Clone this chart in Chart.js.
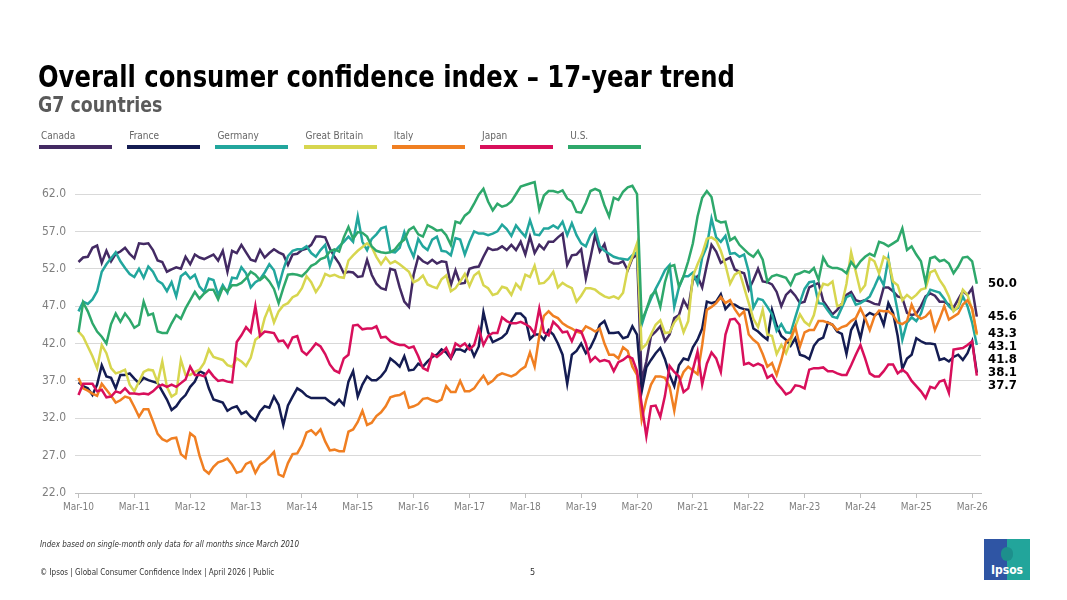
<!DOCTYPE html>
<html>
<head>
<meta charset="utf-8">
<script src="https://cdn.jsdelivr.net/npm/chart.js@4.4.1/dist/chart.umd.min.js"></script>
<style>
  body { margin: 0; background: #fff; }
  #page { position: relative; width: 1067px; height: 600px; overflow: hidden;
          font-family: "Liberation Sans Narrow", "DejaVu Sans Condensed", "Roboto", sans-serif; }
  #myChart { position: absolute; left: 0; top: 0; }
  .title { position: absolute; left: 38px; top: 58px; font-size: 31px; font-weight: bold; color: #000;
           white-space: nowrap; transform: scaleX(0.87); transform-origin: 0 0; }
  .subtitle { position: absolute; left: 38px; top: 93px; font-size: 21px; font-weight: bold; color: #5a5a5a;
              white-space: nowrap; transform: scaleX(0.92); transform-origin: 0 0; }
  .leg { position: absolute; top: 130px; }
  .leg span { display: block; font-size: 10px; color: #666; margin-left: 2px; height: 13px; }
  .leg i { display: block; width: 73px; height: 4px; margin-top: 2px; }
  .note { position: absolute; left: 40px; top: 540px; font-size: 8px; font-style: italic; color: #333; }
  .foot { position: absolute; left: 40px; top: 568px; font-size: 8px; color: #333; }
  .pnum { position: absolute; left: 530px; top: 567px; font-size: 9px; color: #333; }
  .logo { position: absolute; left: 984px; top: 539px; width: 46px; height: 41px;
          background: linear-gradient(90deg, #2f55a4 0 50%, #22a59b 50% 100%); }
  .logo b { position: absolute; left: 0; right: 0; bottom: 3px; text-align: center; color: #fff; font-size: 12px; }
  .logo u { position: absolute; left: 17px; top: 8px; width: 12px; height: 14px; border-radius: 6px; background: #1d8f8c; }
</style>
</head>
<body>
<div id="page">
  <canvas id="myChart" width="1067" height="600"></canvas>
  <div class="title">Overall consumer confidence index – 17-year trend</div>
  <div class="subtitle">G7 countries</div>
  <div id="legend"></div>
  <div class="note">Index based on single-month only data for all months since March 2010</div>
  <div class="foot">© Ipsos | Global Consumer Confidence Index | April 2026 | Public</div>
  <div class="pnum">5</div>
  <div class="logo"><u></u><b>Ipsos</b></div>
</div>
<script>
// months run Mar-10 .. Apr-26, one value per month
const countries = ['Canada', 'France', 'Germany', 'Great Britain', 'Italy', 'Japan', 'U.S.'];
const colors = ['#432a63', '#141c52', '#22a69d', '#d7d64f', '#f07f22', '#d80f5b', '#2ea86b'];
const tickMonths = [0, 12, 24, 36, 48, 60, 72, 84, 96, 108, 120, 132, 144, 156, 168, 180, 192];
const tickLabels = ['Mar-10', 'Mar-11', 'Mar-12', 'Mar-13', 'Mar-14', 'Mar-15', 'Mar-16', 'Mar-17', 'Mar-18',
  'Mar-19', 'Mar-20', 'Mar-21', 'Mar-22', 'Mar-23', 'Mar-24', 'Mar-25', 'Mar-26'];

const canada = [52.9, 53.5, 53.6, 54.8, 55.1, 52.8, 54.4, 53.0, 54.0, 54.3,
  54.8, 54.0, 53.4, 55.4, 55.3, 55.4, 54.5, 53.1, 52.9, 51.6,
  51.9, 52.2, 52.0, 53.6, 52.6, 53.9, 53.5, 53.3, 53.6, 53.9,
  53.1, 54.4, 51.6, 54.4, 54.1, 55.2, 54.2, 53.2, 53.0, 54.5,
  53.5, 54.1, 54.6, 54.2, 53.9, 52.5, 53.9, 54.0, 54.5, 54.7,
  55.2, 56.3, 56.3, 56.2, 54.7, 53.6, 52.7, 51.4, 51.6, 51.5,
  50.9, 51.0, 53.2, 51.2, 50.0, 49.4, 49.2, 52.0, 51.8, 49.5,
  47.6, 46.9, 51.2, 53.6, 53.0, 52.7, 53.2, 52.7, 53.0, 52.9,
  49.8, 51.8, 50.0, 50.1, 52.0, 52.2, 52.3, 53.6, 54.8, 54.5,
  54.6, 55.0, 54.5, 55.2, 54.5, 55.6, 53.9, 56.3, 54.1, 55.2,
  54.6, 55.6, 55.6, 56.2, 56.7, 52.5, 53.8, 53.9, 54.6, 50.7,
  53.5, 56.5, 54.3, 55.3, 53.0, 52.7, 52.7, 53.0, 51.8, 53.4,
  53.9, 37.0, 39.6, 43.0, 43.6, 44.3, 42.3, 43.2, 45.4, 45.8,
  47.8, 46.7, 50.5, 51.0, 49.5, 52.5, 55.2, 54.3, 52.8, 53.2,
  53.5, 51.9, 51.6, 51.4, 49.2, 50.5, 52.0, 50.3, 50.2, 49.9,
  48.9, 47.0, 48.5, 49.1, 48.4, 47.4, 47.6, 49.5, 49.8, 50.1,
  47.7, 46.8, 45.9, 46.5, 47.3, 48.5, 48.9, 47.8, 47.6, 47.8,
  47.6, 47.3, 47.2, 49.5, 49.5, 49.0, 48.3, 48.1, 46.1, 45.8,
  46.0, 47.0, 48.3, 48.7, 48.4, 47.6, 47.6, 47.2, 46.8, 47.9,
  49.0, 48.5, 49.4, 45.6];

const france = [36.8, 36.3, 36.0, 35.1, 36.5, 39.1, 37.6, 37.4, 36.0, 37.8,
  37.8, 38.0, 37.3, 36.7, 37.4, 37.1, 36.9, 36.7, 35.6, 34.5,
  33.1, 33.6, 34.5, 35.1, 36.2, 36.9, 38.3, 38.0, 36.0, 34.5,
  34.3, 34.1, 33.0, 33.4, 33.6, 32.6, 32.9, 32.2, 31.7, 32.9,
  33.6, 33.4, 34.9, 33.8, 31.1, 33.7, 34.9, 36.0, 35.6, 35.0,
  34.7, 34.7, 34.7, 34.7, 34.2, 33.8, 34.5, 33.8, 36.9, 38.3,
  34.9, 36.5, 37.6, 37.1, 37.1, 37.6, 38.4, 40.0, 39.5, 38.9,
  40.3, 38.4, 38.5, 39.3, 38.9, 39.6, 40.2, 40.5, 41.2, 40.8,
  40.0, 41.2, 41.2, 40.9, 41.8, 40.3, 41.6, 46.2, 43.5, 42.2,
  42.5, 42.8, 43.4, 45.0, 46.0, 46.0, 45.4, 42.6, 43.2, 43.2,
  42.5, 43.8, 43.2, 42.0, 40.5, 36.6, 40.5, 41.0, 42.0, 40.7,
  41.5, 42.8, 44.5, 45.0, 43.4, 43.4, 43.5, 42.7, 42.9, 44.3,
  43.2, 35.6, 38.8, 39.8, 40.7, 41.4, 39.9, 37.8, 36.3, 39.1,
  40.0, 39.8, 41.5, 42.5, 44.0, 47.6, 47.4, 47.6, 48.6, 46.6,
  47.3, 47.2, 46.8, 46.6, 46.5, 44.0, 43.6, 43.0, 42.5, 46.5,
  44.4, 43.0, 42.5, 41.7, 42.7, 40.5, 40.3, 39.9, 41.7, 42.5,
  42.8, 44.8, 44.5, 43.6, 43.3, 40.6, 43.8, 44.9, 42.7, 45.6,
  46.1, 45.8, 46.1, 44.5, 47.4, 46.1, 43.0, 38.6, 40.0, 40.5,
  42.7, 42.3, 42.0, 42.0, 41.9, 39.8, 40.0, 39.6, 40.2, 40.5,
  39.8, 40.7, 42.3, 38.1];

const germany = [46.3, 47.6, 47.3, 47.9, 49.0, 51.6, 52.6, 53.4, 54.2, 53.0,
  52.1, 51.3, 50.9, 52.0, 50.8, 52.3, 51.6, 50.4, 50.0, 49.0,
  50.2, 48.3, 51.0, 51.5, 50.7, 51.2, 49.6, 48.9, 50.7, 50.5,
  48.5, 49.8, 48.8, 50.8, 50.7, 52.2, 51.4, 49.5, 50.2, 50.6,
  51.5, 52.6, 51.8, 49.6, 51.9, 53.7, 54.4, 54.6, 54.6, 55.0,
  54.1, 53.6, 54.5, 55.2, 52.4, 54.3, 55.0, 55.6, 56.3, 55.6,
  59.0, 55.6, 54.5, 56.0, 56.6, 57.4, 57.6, 54.3, 54.2, 54.8,
  56.9, 55.0, 53.6, 56.0, 55.0, 54.5, 55.9, 56.3, 54.4, 54.3,
  53.8, 56.1, 55.9, 53.9, 55.6, 57.0, 56.7, 56.7, 56.5, 56.7,
  57.0, 57.9, 57.3, 56.4, 57.8, 57.0, 56.3, 58.5, 56.6, 56.5,
  57.4, 57.4, 57.8, 57.4, 58.3, 56.5, 58.1, 56.5, 55.4, 55.0,
  56.5, 57.3, 55.0, 54.4, 54.0, 53.6, 53.4, 53.3, 53.2, 53.8,
  54.2, 44.5, 46.5, 48.0, 49.3, 50.5, 51.8, 52.5, 46.9, 49.5,
  51.0, 51.0, 51.5, 50.0, 53.5, 55.0, 58.7, 56.2, 55.6, 56.4,
  54.0, 54.1, 53.6, 53.9, 51.6, 46.8, 48.0, 47.8, 46.9, 45.9,
  43.7, 44.6, 43.5, 43.4, 45.5, 47.5, 49.3, 50.2, 50.3, 47.4,
  47.3, 46.4, 45.6, 45.4, 46.8, 48.2, 48.5, 47.2, 47.4, 47.8,
  48.3, 49.6, 51.0, 49.8, 53.4, 49.5, 46.3, 42.5, 44.8, 45.5,
  45.0, 46.0, 48.0, 49.2, 49.0, 48.8, 48.0, 47.0, 46.4, 46.8,
  48.3, 47.0, 44.8, 41.8];

const greatBritain = [43.6, 42.9, 41.6, 40.3, 38.7, 41.8, 40.7, 38.7, 38.0, 38.2,
  38.5, 36.5, 35.6, 36.9, 38.2, 38.5, 38.4, 36.8, 39.6, 36.2,
  34.9, 35.3, 39.8, 37.8, 37.8, 38.2, 38.5, 39.4, 41.2, 40.2,
  40.0, 39.8, 39.1, 38.9, 40.0, 39.6, 39.0, 40.1, 42.5, 43.0,
  45.4, 46.9, 44.8, 46.3, 47.1, 47.4, 48.2, 48.5, 49.4, 51.0,
  50.2, 48.9, 49.8, 51.3, 51.0, 51.2, 50.9, 50.8, 53.1, 53.8,
  54.4, 54.9, 55.4, 54.9, 53.6, 52.6, 53.5, 52.7, 53.0, 52.6,
  52.1, 51.6, 50.2, 50.5, 51.1, 49.9, 49.6, 49.4, 50.6, 51.1,
  49.0, 49.4, 50.3, 51.3, 49.7, 51.1, 51.6, 49.8, 49.4, 48.5,
  48.7, 49.6, 49.4, 48.5, 50.0, 49.3, 51.2, 50.9, 52.4, 50.0,
  50.1, 50.7, 51.6, 49.5, 50.1, 49.7, 49.4, 47.6, 48.4, 49.4,
  49.4, 49.2, 48.7, 48.3, 48.1, 48.3, 48.0, 48.8, 52.0, 53.6,
  55.4, 41.3, 41.9, 43.2, 44.5, 45.1, 43.4, 43.5, 44.8, 45.6,
  43.5, 45.0, 51.0, 52.6, 54.0, 56.0, 56.2, 55.8, 54.4, 52.5,
  50.0, 51.2, 51.6, 49.5, 47.4, 45.3, 44.2, 46.5, 43.2, 43.0,
  40.6, 41.8, 40.7, 42.3, 44.3, 45.9, 44.9, 44.4, 45.8, 48.5,
  50.0, 49.8, 50.3, 47.0, 47.2, 50.0, 54.2, 51.6, 49.0, 49.8,
  53.4, 53.0, 51.4, 53.6, 53.2, 50.3, 49.8, 47.8, 48.5, 48.0,
  48.5, 49.2, 49.4, 51.5, 51.8, 50.5, 49.6, 48.3, 46.3, 47.0,
  49.2, 48.5, 46.5, 43.1];

const italy = [37.4, 36.0, 35.7, 35.3, 35.0, 36.6, 35.8, 35.0, 34.1, 34.4,
  34.9, 34.7, 33.5, 32.2, 33.2, 33.2, 31.6, 29.9, 29.2, 28.9,
  29.3, 29.4, 27.2, 26.7, 30.0, 29.5, 27.0, 25.1, 24.6, 25.5,
  26.1, 26.3, 26.6, 25.8, 24.7, 24.9, 25.9, 26.2, 24.7, 25.8,
  26.2, 26.8, 27.5, 24.5, 24.2, 26.0, 27.2, 27.3, 28.4, 30.1,
  30.4, 29.8, 30.5, 28.9, 27.7, 27.8, 27.6, 27.6, 30.2, 30.5,
  31.5, 33.0, 31.1, 31.4, 32.3, 32.8, 33.6, 34.8, 35.0, 35.1,
  35.5, 33.4, 33.6, 33.9, 34.6, 34.7, 34.4, 34.2, 34.5, 36.3,
  35.5, 35.5, 37.0, 35.6, 35.6, 36.0, 36.9, 37.7, 36.6, 37.0,
  37.7, 38.0, 37.8, 37.6, 37.9, 38.5, 38.9, 40.8, 38.9, 43.0,
  45.7, 46.3, 45.7, 45.4, 44.7, 44.3, 44.0, 43.6, 43.4, 44.3,
  44.0, 43.6, 44.0, 42.0, 40.5, 40.5, 40.0, 41.5, 41.0, 38.9,
  37.8, 31.8, 34.5, 36.5, 37.6, 37.6, 37.4, 36.2, 33.0, 36.7,
  38.2, 38.9, 38.4, 37.9, 41.8, 46.5, 46.9, 47.4, 48.2, 47.4,
  47.8, 46.6, 45.7, 46.3, 43.2, 42.5, 42.0, 40.6, 38.9, 39.4,
  37.8, 39.8, 42.2, 42.7, 44.2, 41.6, 43.5, 43.8, 43.8, 45.0,
  45.0, 44.8, 44.5, 43.8, 44.2, 44.4, 45.0, 45.4, 46.7, 45.4,
  43.8, 45.6, 46.4, 46.3, 46.3, 45.8, 44.8, 44.6, 45.0, 47.2,
  45.8, 45.3, 45.6, 46.3, 43.8, 45.3, 47.0, 45.2, 45.6, 46.0,
  47.2, 47.8, 46.7, 43.3];

const japan = [35.1, 36.6, 36.6, 36.6, 35.6, 35.8, 34.8, 34.9, 35.6, 35.4,
  36.0, 35.3, 35.3, 35.2, 35.3, 35.2, 35.6, 36.2, 36.5, 36.2,
  36.5, 36.2, 36.7, 37.2, 38.9, 37.8, 37.8, 37.6, 38.4, 37.6,
  37.0, 37.1, 36.9, 36.8, 42.2, 43.1, 44.2, 43.5, 47.0, 43.0,
  43.6, 43.5, 43.4, 42.3, 42.4, 41.5, 42.8, 43.0, 41.0, 40.5,
  41.2, 42.0, 41.6, 40.6, 39.2, 38.4, 38.1, 40.0, 40.5, 44.4,
  44.5, 43.9, 44.0, 44.0, 44.3, 42.8, 42.9, 42.3, 42.0, 41.8,
  41.8, 41.4, 41.6, 40.3, 38.7, 38.4, 40.6, 40.2, 40.7, 41.4,
  40.1, 42.0, 41.6, 42.0, 41.2, 41.8, 44.0, 41.8, 43.0, 43.4,
  43.4, 45.5, 45.0, 44.7, 44.7, 44.9, 44.6, 44.2, 43.3, 46.7,
  43.5, 43.1, 44.9, 44.3, 43.5, 43.6, 42.3, 43.8, 43.6, 42.0,
  39.6, 40.2, 39.6, 39.8, 39.6, 38.3, 39.5, 39.8, 40.3, 40.0,
  38.3, 33.8, 29.6, 33.6, 33.7, 32.2, 35.0, 39.0, 38.2, 37.6,
  35.5, 36.0, 38.5, 40.9, 36.5, 39.3, 40.8, 40.0, 38.2, 43.2,
  45.2, 45.3, 44.5, 39.2, 39.4, 39.0, 39.3, 39.0, 37.4, 37.8,
  36.7, 36.0, 35.2, 35.5, 36.4, 36.3, 36.0, 38.5, 38.7, 38.7,
  38.8, 38.3, 38.3, 38.0, 37.8, 37.8, 39.1, 40.5, 41.8, 40.0,
  38.0, 37.6, 37.6, 38.3, 39.2, 39.2, 38.0, 38.5, 38.0, 37.0,
  36.3, 35.6, 34.7, 36.2, 36.0, 36.9, 37.1, 35.4, 41.2, 41.3,
  41.4, 41.8, 42.3, 37.7];

const us = [43.5, 47.5, 46.3, 44.7, 43.6, 42.9, 42.0, 44.6, 46.0, 44.9,
  46.0, 45.2, 44.1, 44.5, 47.6, 45.8, 46.0, 43.6, 43.4, 43.4,
  44.7, 45.8, 45.3, 46.7, 47.8, 48.9, 48.0, 48.7, 49.2, 49.2,
  47.9, 49.5, 49.0, 49.8, 49.8, 50.1, 50.7, 51.6, 51.2, 50.5,
  51.0, 50.3, 49.3, 47.4, 49.4, 51.2, 51.3, 51.2, 51.0, 51.6,
  52.4, 52.7, 53.3, 53.5, 54.3, 54.6, 54.3, 56.2, 57.6, 56.0,
  56.9, 56.8, 56.3, 55.0, 54.4, 54.2, 54.1, 54.2, 54.6, 55.4,
  55.9, 57.2, 57.6, 56.6, 56.3, 57.8, 57.5, 57.1, 57.2, 56.5,
  55.2, 58.3, 58.1, 59.1, 59.6, 60.7, 61.9, 62.7, 61.0, 59.8,
  60.7, 60.3, 60.5, 61.0, 62.0, 63.0, 63.2, 63.4, 63.6, 59.9,
  61.8, 62.4, 62.4, 62.2, 62.5, 61.4, 61.0, 59.6, 59.5, 60.8,
  62.4, 62.7, 62.4, 60.5, 59.0, 61.5, 61.2, 62.3, 62.9, 63.1,
  62.0, 45.0, 46.5, 48.4, 49.0, 46.9, 50.2, 52.3, 52.5, 49.6,
  51.0, 53.0, 55.4, 59.0, 61.5, 62.4, 61.6, 58.5, 58.2, 58.3,
  55.8, 56.2, 55.2, 54.6, 54.0, 53.6, 54.4, 53.2, 50.3, 51.0,
  51.2, 51.0, 50.8, 49.8, 51.2, 51.4, 51.7, 51.5, 52.1, 50.5,
  53.5, 52.4, 52.1, 52.1, 51.9, 51.4, 52.9, 52.1, 53.0, 53.6,
  54.0, 53.7, 55.6, 55.4, 55.0, 55.4, 55.8, 57.4, 54.5, 55.0,
  53.9, 53.0, 50.1, 53.4, 53.6, 53.0, 53.2, 52.7, 51.4, 52.3,
  53.5, 53.6, 53.0, 50.0];

const series = [canada, france, germany, greatBritain, italy, japan, us];

// html legend: name above a colour bar
const legendBox = document.getElementById('legend');
countries.forEach(function (name, i) {
  const item = document.createElement('div');
  item.className = 'leg';
  item.style.left = (39 + i * 88.2) + 'px';
  item.innerHTML = '<span>' + name + '</span><i style="background:' + colors[i] + '"></i>';
  legendBox.appendChild(item);
});

// last value of each line written at the right edge, pushed apart when too close
const endLabels = {
  id: 'endLabels',
  afterDatasetsDraw(chart) {
    const ctx = chart.ctx;
    const items = [];
    chart.data.datasets.forEach(function (ds, i) {
      const meta = chart.getDatasetMeta(i);
      const pt = meta.data[meta.data.length - 1];
      items.push({ y: pt.y, v: ds.data[ds.data.length - 1].y });
    });
    items.sort(function (a, b) { return a.y - b.y; });
    let prev = -1000;
    items.forEach(function (it) {
      it.ly = Math.max(it.y, prev + 13);
      prev = it.ly;
    });
    ctx.save();
    ctx.font = 'bold 13px "Liberation Sans Narrow", "DejaVu Sans Condensed", sans-serif';
    ctx.fillStyle = '#000';
    ctx.textBaseline = 'middle';
    items.forEach(function (it) {
      ctx.fillText(it.v.toFixed(1), chart.chartArea.right + 7, it.ly);
    });
    ctx.restore();
  }
};

const data = {
  datasets: series.map(function (vals, i) {
    return {
      label: countries[i],
      data: vals.map(function (v, m) { return { x: m, y: v }; }),
      borderColor: colors[i],
      backgroundColor: colors[i],
      borderWidth: 2.5,
      pointRadius: 0,
      tension: 0,
      clip: false,
      order: series.length - i
    };
  })
};

const config = {
  type: 'line',
  data,
  options: {
    responsive: false,
    animation: false,
    layout: { padding: { left: 0, top: 194, right: 86, bottom: 0 } },
    plugins: { legend: { display: false }, tooltip: { enabled: false } },
    scales: {
      x: {
        type: 'linear',
        min: -0.75,
        max: 193.9,
        afterBuildTicks: function (scale) {
          scale.ticks = tickMonths.map(function (v) { return { value: v }; });
        },
        afterFit: function (scale) { scale.height = 107; },
        ticks: {
          autoSkip: false,
          maxRotation: 0,
          padding: 3,
          color: '#7f7f7f',
          font: { family: '"Liberation Sans Narrow", "DejaVu Sans Condensed", sans-serif', size: 10 },
          callback: function (v) { return tickLabels[tickMonths.indexOf(v)]; }
        },
        grid: { drawOnChartArea: false, color: '#bfbfbf', tickLength: 5 },
        border: { color: '#bfbfbf' }
      },
      y: {
        min: 22,
        max: 62,
        afterFit: function (scale) { scale.width = 75; },
        ticks: {
          stepSize: 5,
          padding: 9,
          color: '#7f7f7f',
          font: { family: '"Liberation Sans Narrow", "DejaVu Sans Condensed", sans-serif', size: 12 },
          callback: function (v) { return v.toFixed(1); }
        },
        grid: { color: '#d9d9d9', drawTicks: false },
        border: { display: false }
      }
    }
  },
  plugins: [endLabels]
};

const myChart = new Chart(document.getElementById('myChart'), config);
</script>
</body>
</html>
